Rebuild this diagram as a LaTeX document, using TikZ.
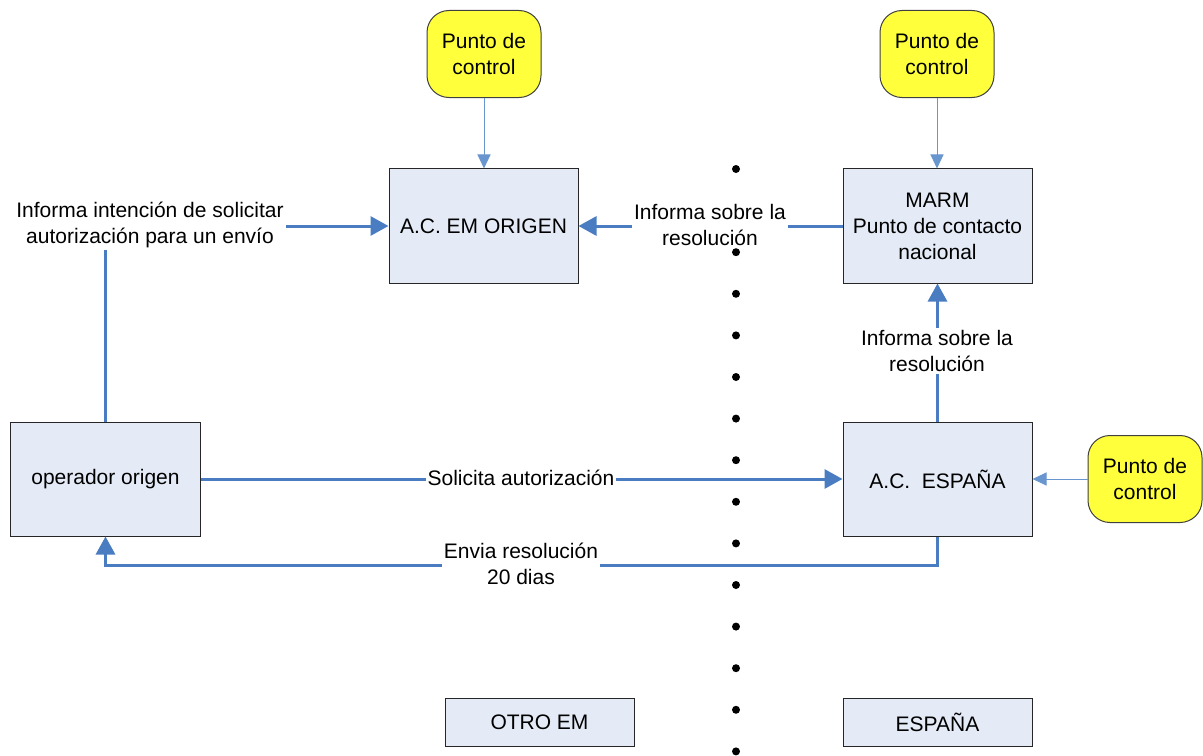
\documentclass[tikz,border=0pt]{standalone}
\usepackage{fontspec}
\setmainfont{Liberation Sans}
\usetikzlibrary{arrows.meta}

\definecolor{boxfill}{HTML}{E4EBF6}
\definecolor{flowblue}{HTML}{4A7CC2}
\definecolor{thinblue}{HTML}{6A96CF}
\definecolor{ctrlyellow}{HTML}{FFFF3C}

\tikzset{
  every node/.style={font=\fontsize{21bp}{26bp}\selectfont, align=center},
  stepbox/.style={draw=black!85, line width=1bp, fill=boxfill,
    minimum width=189bp, minimum height=114bp, inner sep=2bp},
  tagbox/.style={draw=black!85, line width=1bp, fill=boxfill,
    minimum width=189bp, minimum height=48bp, inner sep=2bp},
  ctrlbox/.style={draw=black!75, line width=1bp, fill=ctrlyellow,
    rounded corners=22bp, minimum width=114bp, minimum height=87bp, inner sep=2bp},
  flow/.style={draw=flowblue, line width=3bp,
    -{Triangle[length=18bp,width=19bp]}},
  ctrlflow/.style={draw=thinblue, line width=1bp,
    -{Triangle[length=14bp,width=13bp]}},
  flowlabel/.style={fill=white, inner sep=2bp},
}

\begin{document}
\begin{tikzpicture}[x=1bp, y=-1bp]
  % page frame
  \fill[white] (0,0) rectangle (1203,756);
  \useasboundingbox (0,0) rectangle (1203,756);

  % border line between the two states
  \foreach \k in {0,...,14}
    \fill[black] (736,{169+41.6*\k}) circle (4bp);

  % boxes
  \node[stepbox] (orig) at (483.5,226) {A.C. EM ORIGEN};
  \node[stepbox] (marm) at (937.5,226) {MARM\\Punto de contacto\\nacional};
  \node[stepbox] (oper) at (105.5,479) {operador origen};
  \node[stepbox] (esp)  at (937.5,479) {A.C.\ \ ESPAÑA};
  \node[tagbox]  (otro) at (539.5,722) {OTRO EM};
  \node[tagbox]  (espt) at (937.5,722) {ESPAÑA};

  % control points
  \node[ctrlbox] (pc1) at (484,54)   {Punto de\\control};
  \node[ctrlbox] (pc2) at (937,54)   {Punto de\\control};
  \node[ctrlbox] (pc3) at (1145,479) {Punto de\\control};

  % control arrows
  \draw[ctrlflow] (pc1.south) -- (orig.north -| pc1.south);
  \draw[ctrlflow] (pc2.south) -- (marm.north -| pc2.south);
  \draw[ctrlflow] (pc3.west) -- (esp.east |- pc3.west);

  % main flows
  \draw[flow] (oper.north) |- (orig.west);
  \draw[flow] (marm.west) -- (orig.east);
  \draw[flow] (esp.north) -- (marm.south);
  \draw[flow] (oper.east) -- (esp.west);
  \coordinate (turn) at ([yshift=-29bp]esp.south);
  \draw[flow] (esp.south) -- (turn) -| (oper.south);

  % flow labels
  \node[flowlabel] (l1) at (150,225) {Informa intención de solicitar\\autorización para un envío};
  \node[flowlabel] (l2) at (710,225) {Informa sobre la\\resolución};
  \node[flowlabel] (l3) at (937,351) {Informa sobre la\\resolución};
  \node[flowlabel] (l4) at (521,478) {Solicita autorización};
  \node[flowlabel] (l5) at (521,564) {Envia resolución\\20 dias};
\end{tikzpicture}
\end{document}
